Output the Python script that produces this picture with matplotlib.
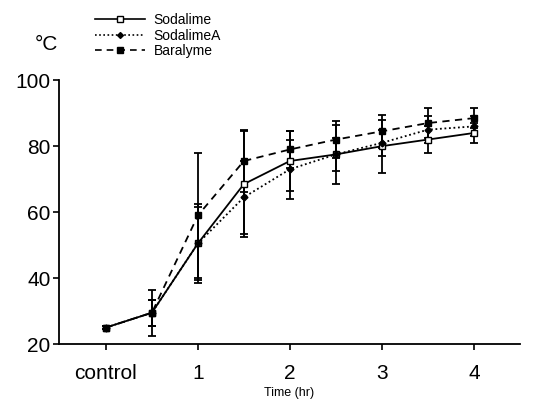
import matplotlib
matplotlib.use('Agg')
import matplotlib.pyplot as plt
from matplotlib.lines import Line2D

plt.rcParams['font.family'] = ['Liberation Sans', 'DejaVu Sans']

# 时间点（control = 0）
time_hr = [0, 0.5, 1, 1.5, 2, 2.5, 3, 3.5, 4]
tick_pos = [0, 1, 2, 3, 4]
tick_labels = ['control', '1', '2', '3', '4']

sodalime = [25, 29.5, 50.5, 68.5, 75.5, 77.5, 80, 82, 84]
sodalime_err = [0.5, 4, 11, 16, 9, 9, 8, 4, 3]
sodalime_a = [25, 29.5, 50.5, 64.5, 73, 77.5, 81, 85, 86]
sodalime_a_err = [0.5, 4, 12, 11, 9, 5, 4, 4, 3]
baralyme = [25, 29.5, 59, 75.5, 79, 82, 84.5, 87, 88.5]
baralyme_err = [0.5, 7, 19, 9.5, 5.5, 5.5, 5, 4.5, 3]

fig = plt.figure(figsize=(5.36, 4.01), dpi=100)
ax = fig.add_axes([0.110, 0.142, 0.860, 0.658])

styles = [
    ('Sodalime', sodalime, sodalime_err, '-', 's', 4.5, 'white'),
    ('SodalimeA', sodalime_a, sodalime_a_err, (0, (1, 1.5)), 'D', 3.5, 'black'),
    ('Baralyme', baralyme, baralyme_err, (0, (4, 3)), 's', 5, 'black'),
]

handles = []
for name, vals, errs, ls, mk, ms, mfc in styles:
    ax.errorbar(time_hr, vals, yerr=errs, color='black', ecolor='black',
                elinewidth=1.3, capsize=3, capthick=1.3, linewidth=1.3,
                linestyle=ls, marker=mk, markersize=ms,
                markerfacecolor=mfc, markeredgecolor='black')
    handles.append(Line2D([], [], color='black', linewidth=1.2, linestyle=ls,
                          marker=mk, markersize=ms - 0.5,
                          markerfacecolor=mfc, markeredgecolor='black',
                          label=name))

ax.set_xlim(-0.51, 4.5)
ax.set_ylim(20, 100)
ax.set_yticks([20, 40, 60, 80, 100])
ax.set_xticks(tick_pos)
ax.set_xticklabels(tick_labels)
ax.tick_params(axis='both', labelsize=15, direction='out', length=4, width=1.2)
ax.tick_params(axis='x', pad=10)
ax.tick_params(axis='y', pad=2)
for s in ['top', 'right']:
    ax.spines[s].set_visible(False)
for s in ['left', 'bottom']:
    ax.spines[s].set_linewidth(1.3)

ax.set_xlabel('Time (hr)', fontsize=9, labelpad=3)
fig.text(0.065, 0.890, '°C', fontsize=15, ha='left', va='center')

fig.legend(handles=handles, loc='upper left', bbox_to_anchor=(0.165, 0.985),
           frameon=False, fontsize=10, handlelength=3.6, handletextpad=0.6,
           labelspacing=0.12, borderpad=0)

plt.savefig('out.png', dpi=100)
plt.close()
